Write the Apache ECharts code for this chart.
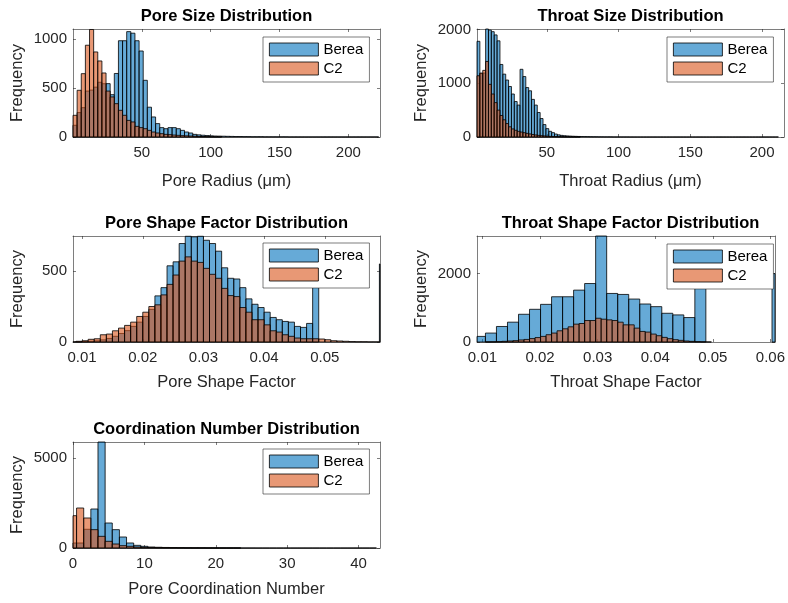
<!DOCTYPE html>
<html>
<head>
<meta charset="utf-8">
<script src="https://cdn.jsdelivr.net/npm/echarts@6/dist/echarts.min.js"></script>
<style>
  html, body { margin: 0; padding: 0; background: #fff; }
  #chart { width: 788px; height: 603px; }
</style>
</head>
<body>
<div id="chart"></div>
<script>
// ---------- Pore radius (µm): 3 µm bins starting at 0 ----------
const poreRadiusBinStart = 0;
const poreRadiusBinWidth = 3;
const poreRadiusBerea = [120, 250, 300, 470, 480, 510, 560, 545, 546, 433,
  650, 985, 985, 1078, 1062, 985, 880, 580, 305, 205,
  137, 96, 85, 96, 96, 85, 68, 51, 41, 27,
  22, 18, 15, 12, 10, 9, 8, 7, 6, 5,
  5, 4, 4, 3, 3, 3, 2, 2, 2, 2,
  2, 2, 1, 1, 1, 1, 1, 1, 1, 1, 1, 1, 1, 1, 1, 1, 1, 1, 1, 1, 1, 1, 1, 1];
const poreRadiusC2 = [222, 478, 648, 939, 1100, 870, 778, 655, 470, 410,
  341, 273, 222, 170, 154, 109, 96, 85, 68, 51,
  41, 34, 27, 24, 20, 17, 14, 12, 10, 8, 6, 5, 4, 3, 2, 2];
const poreRadiusRange = [0, 223];
const poreRadiusTicks = [50, 100, 150, 200];
const poreRadiusCountMax = 1105;
const poreRadiusCountTicks = [0, 500, 1000];

// ---------- Throat radius (µm): 2 µm bins ----------
const throatRadiusBinStart = 1.4;
const throatRadiusBinWidth = 2;
const throatRadiusBerea = [1781, 1180, 1190, 2010, 1990, 1960, 1900, 1790, 1350, 1170,
  1060, 940, 800, 660, 594, 1260, 1125, 920, 860, 700,
  594, 456, 344, 231, 156, 106, 81, 55, 40, 30,
  24, 20, 17, 14, 12, 10, 9, 8, 7, 6,
  5, 5, 4, 4, 3, 3, 3, 2, 2, 2, 2, 2, 2,
  1, 1, 1, 1, 1, 1, 1, 1, 1, 1, 1, 1, 1, 1, 1, 1, 1, 1, 1, 1, 1, 1, 1, 1, 1,
  1, 1, 1, 1, 1, 1, 1, 1, 1, 1, 1, 1, 1, 1, 1, 1, 1, 1, 1, 1, 1, 1, 1, 1, 1, 1, 1];
const throatRadiusC2 = [1140, 1190, 1240, 1406, 980, 800, 640, 500, 400, 320,
  250, 190, 150, 125, 105, 92, 80, 68, 57, 47,
  38, 30, 25, 20, 16, 12, 10, 8, 6, 5, 4, 3, 2, 2, 1, 1];
const throatRadiusRange = [1.4, 215.3];
const throatRadiusTicks = [50, 100, 150, 200];
const throatRadiusCountMax = 2010;
const throatRadiusCountTicks = [0, 1000, 2000];

// ---------- Pore shape factor: 0.001 bins starting at 0.008 ----------
const poreShapeBinStart = 0.008;
const poreShapeBinWidth = 0.001;
const poreShapeBerea = [0, 1, 3, 5, 8, 15, 25, 40, 60, 80,
  110, 140, 180, 230, 325, 383, 537, 565, 694, 745,
  741, 745, 717, 694, 640, 523, 449, 444, 383, 304,
  266, 243, 210, 173, 157, 145, 140, 110, 103, 131,
  620, 0, 0, 0, 0, 0, 0, 0, 0, 0, 0, 550];
const poreShapeC2 = [2, 5, 9, 19, 23, 51, 56, 79, 98, 117,
  140, 180, 210, 250, 262, 332, 406, 472, 570, 600,
  570, 561, 519, 477, 449, 378, 327, 320, 243, 210,
  157, 157, 121, 79, 70, 51, 40, 28, 23, 23,
  23, 21, 16, 9, 7, 5, 3, 2, 2, 1, 1];
const poreShapeRange = [0.0085, 0.0591];
const poreShapeTicks = [0.01, 0.02, 0.03, 0.04, 0.05];
const poreShapeCountMax = 747;
const poreShapeCountTicks = [0, 500];

// ---------- Throat shape factor ----------
const throatShapeBinStart = 0.0086;
const throatShapeBereaBinWidth = 0.001914;
const throatShapeC2BinWidth = 0.000957;
const throatShapeBerea = [164, 261, 454, 580, 811, 956, 1101, 1323, 1323, 1517,
  1710, 3100, 1420, 1391, 1256, 1111, 1034, 840, 792, 715,
  2600, 0, 0, 0, 0, 0, 0, 2000];
const throatShapeC2 = [0, 0, 2, 5, 10, 20, 30, 40, 60, 75,
  100, 130, 164, 213, 261, 328, 386, 444, 522, 541,
  628, 628, 695, 667, 647, 628, 580, 502, 502, 406,
  309, 290, 232, 184, 135, 97, 68, 48, 29, 19, 10, 5, 3];
const throatShapeRange = [0.00905, 0.0608];
const throatShapeTicks = [0.01, 0.02, 0.03, 0.04, 0.05, 0.06];
const throatShapeCountMax = 3100;
const throatShapeCountTicks = [0, 2000];

// ---------- Pore coordination number: integer bins ----------
const coordBinStart = -0.5;
const coordBinWidth = 1;
const coordBerea = [278, 278, 1040, 2167, 5890, 1389, 1019, 611, 278, 148,
  93, 56, 40, 30, 22, 16, 12, 9, 7, 5,
  4, 3, 3, 2, 2, 2, 1, 1, 1, 1, 1, 1, 1, 1, 1, 1, 1, 1, 1, 1, 1, 1, 1];
const coordC2 = [1796, 2222, 1667, 1019, 648, 370, 222, 130, 93, 56,
  37, 25, 18, 12, 9, 7, 5, 4, 3, 2, 2, 1, 1, 1];
const coordRange = [0, 43];
const coordTicks = [0, 10, 20, 30, 40];
const coordCountMax = 5890;
const coordCountTicks = [0, 5000];

const sampleNames = ['Berea', 'C2'];

// ---------- styling ----------
const FONT = '"Liberation Sans", Arial, Helvetica, sans-serif';
const INK = '#262626';
const BEREA_FILL = 'rgba(0,114,189,0.6)';
const C2_FILL = 'rgba(217,83,25,0.6)';
const TICK_SIZE = 15;
const LABEL_SIZE = 16.5;

// [left edge, right edge, count] for each bin
function toBins(start, width, counts) {
  return counts.map((c, i) => [start + i * width, start + (i + 1) * width, c]);
}

function histRenderer(fill) {
  return function (params, api) {
    const count = api.value(2);
    if (!(count > 0)) return null;
    const base = api.coord([api.value(0), 0]);
    const top = api.coord([api.value(1), count]);
    const cs = params.coordSys;
    const shape = echarts.graphic.clipRectByRect(
      { x: base[0], y: top[1], width: top[0] - base[0], height: base[1] - top[1] },
      { x: cs.x, y: cs.y, width: cs.width, height: cs.height }
    );
    if (!shape) return null;
    return { type: 'rect', shape: shape, style: { fill: fill, stroke: '#000', lineWidth: 0.8 } };
  };
}

const panels = [
  {
    title: 'Pore Size Distribution', xName: 'Pore Radius (μm)',
    grid: { left: 73, top: 29, width: 307, height: 108 }, xNameGap: 36,
    range: poreRadiusRange, ticks: poreRadiusTicks, yMax: poreRadiusCountMax, yTicks: poreRadiusCountTicks,
    berea: toBins(poreRadiusBinStart, poreRadiusBinWidth, poreRadiusBerea),
    c2: toBins(poreRadiusBinStart, poreRadiusBinWidth, poreRadiusC2),
    legendPos: { left: 263, top: 37 }
  },
  {
    title: 'Throat Size Distribution', xName: 'Throat Radius (μm)',
    grid: { left: 477, top: 29, width: 307, height: 108 }, xNameGap: 36,
    range: throatRadiusRange, ticks: throatRadiusTicks, yMax: throatRadiusCountMax, yTicks: throatRadiusCountTicks,
    berea: toBins(throatRadiusBinStart, throatRadiusBinWidth, throatRadiusBerea),
    c2: toBins(throatRadiusBinStart, throatRadiusBinWidth, throatRadiusC2),
    legendPos: { left: 667, top: 37 }
  },
  {
    title: 'Pore Shape Factor Distribution', xName: 'Pore Shape Factor',
    grid: { left: 73, top: 236, width: 307, height: 106 }, xNameGap: 32,
    range: poreShapeRange, ticks: poreShapeTicks, yMax: poreShapeCountMax, yTicks: poreShapeCountTicks,
    berea: toBins(poreShapeBinStart, poreShapeBinWidth, poreShapeBerea),
    c2: toBins(poreShapeBinStart, poreShapeBinWidth, poreShapeC2),
    legendPos: { left: 263, top: 243 }
  },
  {
    title: 'Throat Shape Factor Distribution', xName: 'Throat Shape Factor',
    grid: { left: 477, top: 236, width: 307, height: 106 }, xNameGap: 32,
    range: throatShapeRange, ticks: throatShapeTicks, yMax: throatShapeCountMax, yTicks: throatShapeCountTicks,
    berea: toBins(throatShapeBinStart, throatShapeBereaBinWidth, throatShapeBerea),
    c2: toBins(throatShapeBinStart, throatShapeC2BinWidth, throatShapeC2),
    legendPos: { left: 667, top: 244 }
  },
  {
    title: 'Coordination Number Distribution', xName: 'Pore Coordination Number',
    grid: { left: 73, top: 442, width: 307, height: 106 }, xNameGap: 33,
    range: coordRange, ticks: coordTicks, yMax: coordCountMax, yTicks: coordCountTicks,
    berea: toBins(coordBinStart, coordBinWidth, coordBerea),
    c2: toBins(coordBinStart, coordBinWidth, coordC2),
    legendPos: { left: 263, top: 449 }
  }
];

const axisLine = { show: true, onZero: false, lineStyle: { color: INK, width: 0.6 } };
const tickText = { color: INK, fontSize: TICK_SIZE, fontFamily: FONT };
const nameText = { color: INK, fontSize: LABEL_SIZE, fontFamily: FONT };

const grid = [], xAxis = [], yAxis = [], series = [], legend = [], graphic = [];

panels.forEach((p, i) => {
  grid.push(Object.assign({ containLabel: false }, p.grid));

  // bottom + mirrored top x axes
  xAxis.push({
    gridIndex: i, type: 'value', position: 'bottom', min: p.range[0], max: p.range[1],
    axisLine: axisLine,
    axisTick: { show: true, inside: true, length: 3, customValues: p.ticks, lineStyle: { color: INK, width: 0.6 } },
    axisLabel: Object.assign({ customValues: p.ticks, margin: 8, formatter: v => String(v) }, tickText),
    splitLine: { show: false },
    name: p.xName, nameLocation: 'middle', nameGap: p.xNameGap, nameTextStyle: nameText
  });
  xAxis.push({
    gridIndex: i, type: 'value', position: 'top', min: p.range[0], max: p.range[1],
    axisLine: axisLine,
    axisTick: { show: true, inside: true, length: 3, customValues: p.ticks, lineStyle: { color: INK, width: 0.6 } },
    axisLabel: { show: false }, splitLine: { show: false }
  });

  // left + mirrored right y axes
  yAxis.push({
    gridIndex: i, type: 'value', position: 'left', min: 0, max: p.yMax,
    axisLine: axisLine,
    axisTick: { show: true, inside: true, length: 3, customValues: p.yTicks, lineStyle: { color: INK, width: 0.6 } },
    axisLabel: Object.assign({ customValues: p.yTicks, margin: 6, formatter: v => String(v) }, tickText),
    splitLine: { show: false },
    name: 'Frequency', nameLocation: 'middle', nameRotate: 90, nameGap: 47, nameTextStyle: nameText
  });
  yAxis.push({
    gridIndex: i, type: 'value', position: 'right', min: 0, max: p.yMax,
    axisLine: axisLine,
    axisTick: { show: true, inside: true, length: 3, customValues: p.yTicks, lineStyle: { color: INK, width: 0.6 } },
    axisLabel: { show: false }, splitLine: { show: false }
  });

  const xi = 2 * i, yi = 2 * i;
  series.push({
    type: 'custom', name: sampleNames[0], xAxisIndex: xi, yAxisIndex: yi,
    data: p.berea, encode: { x: [0, 1], y: 2 },
    renderItem: histRenderer(BEREA_FILL), itemStyle: { color: BEREA_FILL }, silent: true, z: 2
  });
  series.push({
    type: 'custom', name: sampleNames[1], xAxisIndex: xi, yAxisIndex: yi,
    data: p.c2, encode: { x: [0, 1], y: 2 },
    renderItem: histRenderer(C2_FILL), itemStyle: { color: C2_FILL }, silent: true, z: 3
  });

  legend.push({
    data: sampleNames, orient: 'vertical', left: p.legendPos.left, top: p.legendPos.top,
    icon: 'rect', itemWidth: 49, itemHeight: 13, itemGap: 4,
    padding: [5, 6, 6, 6], backgroundColor: '#fff', borderColor: INK, borderWidth: 0.6,
    itemStyle: { borderColor: '#000', borderWidth: 0.8 },
    textStyle: { color: '#000', fontSize: TICK_SIZE, fontFamily: FONT },
    selectedMode: false, z: 10
  });

  graphic.push({
    type: 'text', x: p.grid.left + p.grid.width / 2, y: p.grid.top - 13, silent: true,
    style: {
      text: p.title, fill: '#000', align: 'center', verticalAlign: 'middle',
      fontSize: LABEL_SIZE, fontWeight: 'bold', fontFamily: FONT
    }
  });
});

const chart = echarts.init(document.getElementById('chart'), null, { renderer: 'canvas' });
chart.setOption({
  backgroundColor: '#ffffff',
  animation: false,
  grid: grid, xAxis: xAxis, yAxis: yAxis, series: series, legend: legend, graphic: graphic
});
</script>
</body>
</html>
